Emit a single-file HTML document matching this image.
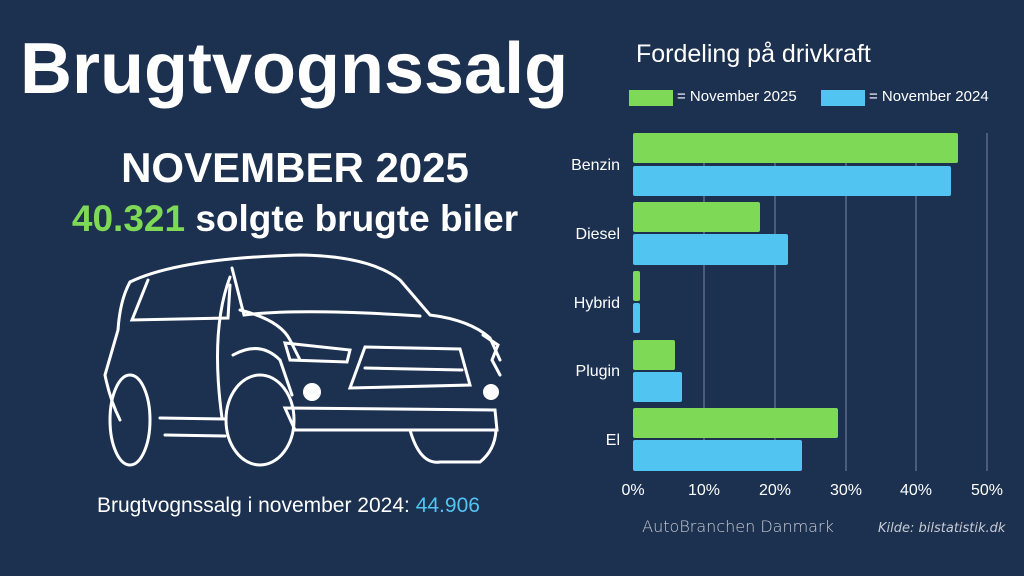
<!DOCTYPE html>
<html><head><meta charset="utf-8"><style>
body{margin:0;width:1024px;height:576px;background:#1c3150;overflow:hidden;font-family:"Liberation Sans",sans-serif;color:#fff;position:relative}
.t{position:absolute;white-space:nowrap}
</style></head><body>
<div class="t" style="left:20px;top:28px;font-size:72px;font-weight:bold;letter-spacing:0px">Brugtvognssalg</div>
<div class="t" style="left:0;width:590px;text-align:center;top:144px;font-size:42px;font-weight:bold">NOVEMBER 2025</div>
<div class="t" style="left:0;width:590px;text-align:center;top:198px;font-size:37px;font-weight:bold"><span style="color:#7ed957">40.321</span> solgte brugte biler</div>
<div class="t" style="left:97px;top:494px;font-size:21px">Brugtvognssalg i november 2024: <span style="color:#52c4f2">44.906</span></div>
<div class="t" style="left:636px;top:40px;font-size:25px">Fordeling på drivkraft</div>
<div class="t" style="left:629px;top:90px;width:44px;height:16px;background:#7ed957"></div>
<div class="t" style="left:677px;top:88px;font-size:15px">= November 2025</div>
<div class="t" style="left:821px;top:90px;width:44px;height:16px;background:#52c4f2"></div>
<div class="t" style="left:869px;top:88px;font-size:15px">= November 2024</div>
<svg width="1024" height="576" style="position:absolute;left:0;top:0">
<g stroke="#5a6b85" stroke-width="1.5">
<line x1="704" y1="133" x2="704" y2="471"/><line x1="775" y1="133" x2="775" y2="471"/><line x1="846" y1="133" x2="846" y2="471"/><line x1="916" y1="133" x2="916" y2="471"/><line x1="987" y1="133" x2="987" y2="471"/>
</g>
<g fill="#7ed957"><rect x="633" y="133" width="325" height="30" rx="2"/><rect x="633" y="202" width="127" height="30" rx="2"/><rect x="633" y="271" width="7" height="30" rx="2"/><rect x="633" y="340" width="42" height="30" rx="2"/><rect x="633" y="408" width="205" height="30" rx="2"/></g>
<g fill="#52c4f2"><rect x="633" y="166" width="318" height="30" rx="2"/><rect x="633" y="234" width="155" height="31" rx="2"/><rect x="633" y="303" width="7" height="30" rx="2"/><rect x="633" y="372" width="49" height="30" rx="2"/><rect x="633" y="440" width="169" height="31" rx="2"/></g>
<g font-size="16" fill="#fff" text-anchor="end" font-family="Liberation Sans"><text x="620" y="170">Benzin</text><text x="620" y="239">Diesel</text><text x="620" y="308">Hybrid</text><text x="620" y="376">Plugin</text><text x="620" y="445">El</text></g>
<g font-size="16" fill="#fff" text-anchor="middle" font-family="Liberation Sans"><text x="633" y="495">0%</text><text x="704" y="495">10%</text><text x="775" y="495">20%</text><text x="846" y="495">30%</text><text x="916" y="495">40%</text><text x="987" y="495">50%</text></g>
<text x="738" y="532" font-size="16" fill="#c8ccd4" text-anchor="middle" font-family="DejaVu Sans" font-weight="300">AutoBranchen Danmark</text>
<text x="878" y="532" font-size="13" fill="#c8ccd4" font-style="italic" font-family="DejaVu Sans">Kilde: bilstatistik.dk</text>
<g fill="none" stroke="#fff" stroke-width="3" stroke-linecap="round">
<path d="M130 282 Q180 258 300 255 Q370 256 400 280 L430 315 Q470 320 490 338 L500 360"/>
<path d="M130 282 Q120 300 118 330 L105 375 Q110 400 120 420"/>
<path d="M148 280 L132 320 L228 318 L230 285"/>
<path d="M230 277 Q210 330 222 418"/>
<path d="M232 268 L244 315 Q300 308 420 316"/>
<path d="M240 310 Q280 320 290 340 L300 360"/>
<path d="M285 343 L350 350 L347 362 L290 360 Z"/>
<path d="M365 347 L460 349 L470 385 L350 388 Z"/>
<path d="M365 368 L462 370"/>
<path d="M285 408 L495 410 L497 430 L295 430 Z"/>
<path d="M160 418 L225 419 M165 435 L225 436"/>
<path d="M233 355 Q260 340 280 360 L292 395"/>
<ellipse cx="260" cy="420" rx="34" ry="45"/>
<ellipse cx="130" cy="420" rx="20" ry="45"/>
<path d="M410 430 Q420 465 440 462 L480 462 Q495 450 496 430"/>
<path d="M483 335 L498 345 L492 360 L500 375"/>
</g>
<circle cx="312" cy="392" r="9" fill="#fff"/><circle cx="491" cy="392" r="8" fill="#fff"/>
</svg>
</body></html>
